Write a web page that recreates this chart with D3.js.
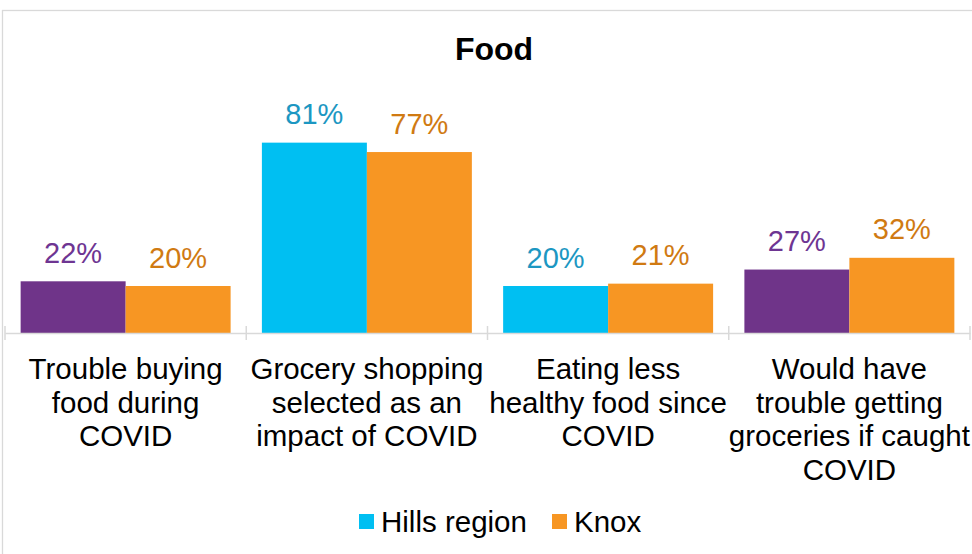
<!DOCTYPE html>
<html>
<head>
<meta charset="utf-8">
<script src="https://cdn.jsdelivr.net/npm/d3@7/dist/d3.min.js"></script>
<style>
  html, body { margin: 0; padding: 0; background: #fff; }
  svg { display: block; font-family: Arial, "Liberation Sans", sans-serif; }
</style>
</head>
<body>
<svg id="chart" width="972" height="554"></svg>
<script>
const title = "Food";
const categories = [
  ["Trouble buying", "food during", "COVID"],
  ["Grocery shopping", "selected as an", "impact of COVID"],
  ["Eating less", "healthy food since", "COVID"],
  ["Would have", "trouble getting", "groceries if caught", "COVID"]
];
const seriesNames = ["Hills region", "Knox"];
const hillsValues = [22, 81, 20, 27];
const knoxValues = [20, 77, 21, 32];
// Per-point colours of the Hills series (first and last points purple)
const hillsPointColors = ["#6F3489", "#00BFF2", "#00BFF2", "#6F3489"];
const hillsLabelColors = ["#6E3592", "#1C97C2", "#1C97C2", "#6E3592"];
const knoxColor = "#F79623";
const knoxLabelColor = "#D07A12";
const legendColors = ["#00BFF2", "#F79623"];

const svg = d3.select("#chart");
const W = 972, H = 554;
const plot = { left: 5, right: 970, top: 98, bottom: 333 };

// chart border
svg.append("rect")
  .attr("x", 2.5).attr("y", 10.5)
  .attr("width", W + 10).attr("height", H + 10)
  .attr("fill", "none").attr("stroke", "#D9D9D9").attr("stroke-width", 1.3);

// title
svg.append("text")
  .attr("x", 494).attr("y", 60)
  .attr("text-anchor", "middle")
  .attr("font-size", 32).attr("font-weight", "bold")
  .attr("fill", "#000")
  .text(title);

const idx = d3.range(categories.length);
const x0 = d3.scaleBand().domain(idx).range([plot.left, plot.right]).paddingInner(0).paddingOuter(0);
const x1 = d3.scaleBand().domain([0, 1]).range([0, x0.bandwidth()]).paddingInner(0).paddingOuter(0.149);
const y = d3.scaleLinear().domain([0, 100]).range([plot.bottom, plot.top]);

const data = idx.map(i => [
  { s: 0, v: hillsValues[i], c: hillsPointColors[i], lc: hillsLabelColors[i] },
  { s: 1, v: knoxValues[i], c: knoxColor, lc: knoxLabelColor }
]);

const groups = svg.append("g").selectAll("g").data(data).join("g")
  .attr("transform", (d, i) => `translate(${x0(i)},0)`);

groups.selectAll("rect").data(d => d).join("rect")
  .attr("x", d => x1(d.s))
  .attr("y", d => y(d.v))
  .attr("width", x1.bandwidth())
  .attr("height", d => y(0) - y(d.v))
  .attr("fill", d => d.c);

groups.selectAll("text.lbl").data(d => d).join("text")
  .attr("class", "lbl")
  .attr("x", d => x1(d.s) + x1.bandwidth() / 2)
  .attr("y", d => y(d.v) - 18.5)
  .attr("text-anchor", "middle")
  .attr("font-size", 29)
  .attr("fill", d => d.lc)
  .text(d => d.v + "%");

// x axis
const axis = d3.axisBottom(x0).tickSize(0).tickFormat("");
const ax = svg.append("g").attr("transform", `translate(0,${plot.bottom})`).call(axis);
ax.select(".domain").attr("stroke", "#D9D9D9").attr("stroke-width", 1.5);
// tick marks at category boundaries
const bounds = idx.map(i => x0(i)).concat([plot.right]);
svg.append("g").selectAll("line").data(bounds).join("line")
  .attr("x1", d => d).attr("x2", d => d)
  .attr("y1", plot.bottom - 7).attr("y2", plot.bottom + 7)
  .attr("stroke", "#D9D9D9").attr("stroke-width", 1.5);

// category labels
const catG = svg.append("g").selectAll("text").data(categories).join("text")
  .attr("text-anchor", "middle")
  .attr("font-size", 29.5)
  .attr("fill", "#000")
  .attr("x", (d, i) => x0(i) + x0.bandwidth() / 2);
catG.selectAll("tspan").data(d => d).join("tspan")
  .attr("x", function () { return d3.select(this.parentNode).attr("x"); })
  .attr("y", (d, j) => 379 + j * 33.5)
  .text(d => d);

// legend
const legX = [359, 552];
const leg = svg.append("g").selectAll("g").data(seriesNames).join("g")
  .attr("transform", (d, i) => `translate(${legX[i]},514)`);
leg.append("rect").attr("width", 15).attr("height", 15).attr("fill", (d, i) => legendColors[i]);
leg.append("text").attr("x", 22).attr("y", 18).attr("font-size", 29.5).attr("fill", "#000").text(d => d);
</script>
</body>
</html>
